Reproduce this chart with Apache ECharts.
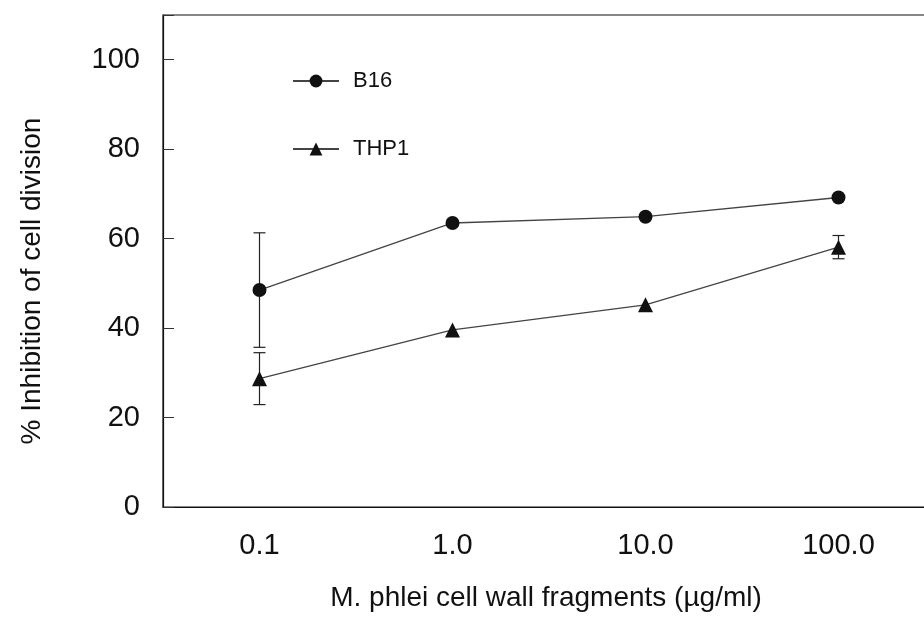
<!DOCTYPE html>
<html>
<head>
<meta charset="utf-8">
<script src="https://cdn.jsdelivr.net/npm/echarts@6/dist/echarts.min.js"></script>
<style>html,body{margin:0;padding:0;background:#fff;overflow:hidden;}#c{width:924px;height:618px;}</style>
</head>
<body>
<div id="c"></div>
<script>
var categories = ['0.1', '1.0', '10.0', '100.0'];
var b16 = [48.5, 63.5, 64.9, 69.2];
var b16Err = [12.8, 0, 0, 0];
var thp1 = [28.7, 39.6, 45.2, 58.1];
var thp1Err = [5.8, 0, 0, 2.6];
var yTicks = [0, 20, 40, 60, 80, 100];

function errData(vals, errs) {
  var out = [];
  for (var i = 0; i < vals.length; i++) {
    if (errs[i] > 0) out.push([i, vals[i] - errs[i], vals[i] + errs[i]]);
  }
  return out;
}
function errRender(params, api) {
  var x = api.value(0);
  var lo = api.coord([x, api.value(1)]);
  var hi = api.coord([x, api.value(2)]);
  var w = 6;
  var st = { stroke: '#222', lineWidth: 1.2 };
  return {
    type: 'group',
    children: [
      { type: 'line', shape: { x1: lo[0], y1: lo[1], x2: hi[0], y2: hi[1] }, style: st },
      { type: 'line', shape: { x1: lo[0] - w, y1: lo[1], x2: lo[0] + w, y2: lo[1] }, style: st },
      { type: 'line', shape: { x1: hi[0] - w, y1: hi[1], x2: hi[0] + w, y2: hi[1] }, style: st }
    ]
  };
}

var chart = echarts.init(document.getElementById('c'), null, { renderer: 'canvas' });
var font = 'Liberation Sans, Arial, Helvetica, sans-serif';
chart.setOption({
  animation: false,
  backgroundColor: '#fff',
  textStyle: { fontFamily: font, color: '#111' },
  grid: { left: 163, right: -11, top: 15, bottom: 111, show: true, borderColor: '#111', borderWidth: 1.2,
    containLabel: false, outerBoundsMode: 'none' },
  legend: {
    orient: 'vertical', left: 287, top: 65, itemWidth: 46, itemHeight: 16, itemGap: 46,
    textStyle: { fontSize: 22, color: '#111', fontFamily: font, padding: [0, 0, 0, 9] },
    data: ['B16', 'THP1']
  },
  xAxis: {
    type: 'category', data: categories, boundaryGap: true,
    axisLine: { lineStyle: { color: '#111', width: 1.2 } },
    axisTick: { inside: true, length: 11, alignWithLabel: true, lineStyle: { color: '#333' } },
    axisLabel: { fontSize: 29, color: '#111', margin: 24, fontFamily: font },
    name: 'M. phlei cell wall fragments (\u00b5g/ml)', nameLocation: 'middle', nameGap: 77,
    nameTextStyle: { fontSize: 28, color: '#111', fontFamily: font, padding: [0, 6, 0, 0] },
    splitLine: { show: false }
  },
  yAxis: {
    type: 'value', min: 0, max: 110, interval: 20,
    axisLine: { show: true, lineStyle: { color: '#111', width: 1.2 } },
    axisTick: { show: true, inside: true, length: 11, lineStyle: { color: '#333' } },
    axisLabel: { fontSize: 29, color: '#111', margin: 23, fontFamily: font,
      formatter: function (v) { return yTicks.indexOf(v) >= 0 ? String(v) : ''; } },
    splitLine: { show: false },
    name: '% Inhibition of cell division', nameLocation: 'middle', nameGap: 117,
    nameTextStyle: { fontSize: 28, color: '#111', fontFamily: font, padding: [0, 40, 0, 0] }
  },
  series: [
    { name: 'B16 err', type: 'custom', renderItem: errRender, data: errData(b16, b16Err), z: 1, silent: true },
    { name: 'THP1 err', type: 'custom', renderItem: errRender, data: errData(thp1, thp1Err), z: 1, silent: true },
    { name: 'B16', type: 'line', data: b16, symbol: 'circle', symbolSize: 14,
      lineStyle: { color: '#444', width: 1.3 }, itemStyle: { color: '#111' }, z: 3 },
    { name: 'THP1', type: 'line', data: thp1, symbol: 'triangle', symbolSize: 15,
      lineStyle: { color: '#444', width: 1.3 }, itemStyle: { color: '#111' }, z: 3 }
  ]
});
</script>
</body>
</html>
